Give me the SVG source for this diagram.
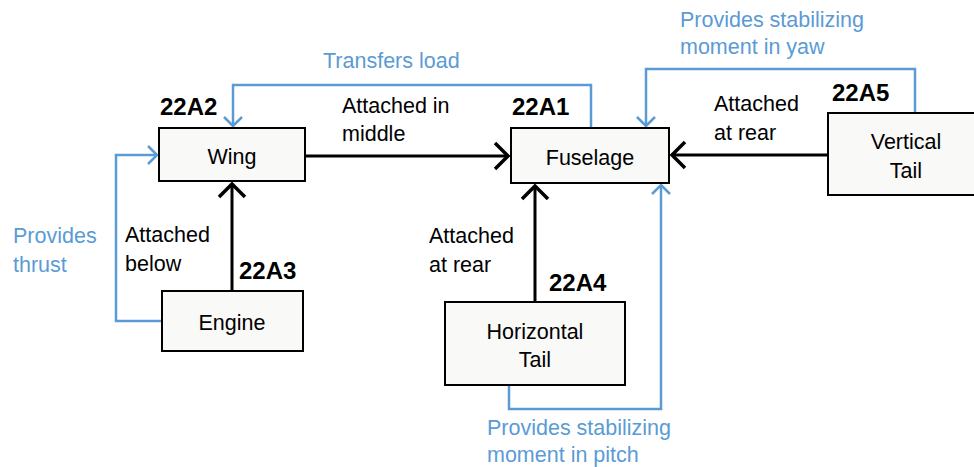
<svg xmlns="http://www.w3.org/2000/svg" width="974" height="467" viewBox="0 0 974 467">
<style>
.box{fill:#f9f9f8;stroke:#000;stroke-width:2}
.t{font-family:"Liberation Sans",Arial,sans-serif;font-size:21.5px;fill:#000}
.c{text-anchor:middle}
.id{font-family:"Liberation Sans",Arial,sans-serif;font-size:24px;font-weight:bold;fill:#000}
.b{fill:#5b9bd5}
.k{fill:none;stroke:#000;stroke-width:3}
.bl{fill:none;stroke:#5b9bd5;stroke-width:2.5}
</style>
<defs>
<marker id="ak" markerUnits="userSpaceOnUse" viewBox="-16 -16 20 32" markerWidth="20" markerHeight="32" refX="0" refY="0" orient="auto">
<path d="M-13,-13 L0,0 L-13,13" fill="none" stroke="#000" stroke-width="3.5"/>
</marker>
<marker id="ab" markerUnits="userSpaceOnUse" viewBox="-12 -12 16 24" markerWidth="16" markerHeight="24" refX="0" refY="0" orient="auto">
<path d="M-9,-9 L0,0 L-9,9" fill="none" stroke="#5b9bd5" stroke-width="2.5"/>
</marker>
</defs>
<rect width="974" height="467" fill="#fff"/>
<g id="connectors">
<path class="k" d="M305,156 H508" marker-end="url(#ak)"/>
<path class="k" d="M232,291 V184" marker-end="url(#ak)"/>
<path class="k" d="M535,302 V186" marker-end="url(#ak)"/>
<path class="k" d="M828,155 H672" marker-end="url(#ak)"/>
<path class="bl" d="M591,128 V85 H233 V126" marker-end="url(#ab)"/>
<path class="bl" d="M915,113 V69 H646 V126" marker-end="url(#ab)"/>
<path class="bl" d="M509,385 V409 H661 V185" marker-end="url(#ab)"/>
<path class="bl" d="M162,321 H116 V155 H157" marker-end="url(#ab)"/>
<text class="t" x="342" y="113">Attached in</text>
<text class="t" x="342" y="141">middle</text>
<text class="t" x="714" y="111">Attached</text>
<text class="t" x="714" y="140">at rear</text>
<text class="t" x="125" y="242">Attached</text>
<text class="t" x="125" y="271">below</text>
<text class="t" x="429" y="243">Attached</text>
<text class="t" x="429" y="272">at rear</text>
<text class="t b" x="323" y="68">Transfers load</text>
<text class="t b" x="680" y="27">Provides stabilizing</text>
<text class="t b" x="680" y="54">moment in yaw</text>
<text class="t b" x="13" y="243">Provides</text>
<text class="t b" x="13" y="272">thrust</text>
<text class="t b" x="487" y="435">Provides stabilizing</text>
<text class="t b" x="487" y="462">moment in pitch</text>
</g>
<g id="wing">
<rect class="box" x="159" y="128" width="146" height="53"/>
<text class="t c" x="232" y="164">Wing</text>
<text class="id" x="160" y="115">22A2</text>
</g>
<g id="fuselage">
<rect class="box" x="511" y="128" width="158" height="55"/>
<text class="t c" x="590" y="165">Fuselage</text>
<text class="id" x="512" y="115">22A1</text>
</g>
<g id="vertical-tail">
<rect class="box" x="828" y="113" width="152" height="82"/>
<text class="t c" x="906" y="149">Vertical</text>
<text class="t c" x="906" y="178">Tail</text>
<text class="id" x="832" y="101">22A5</text>
</g>
<g id="engine">
<rect class="box" x="162" y="291" width="141" height="60"/>
<text class="t c" x="232" y="330">Engine</text>
<text class="id" x="239" y="279">22A3</text>
</g>
<g id="horizontal-tail">
<rect class="box" x="445" y="302" width="180" height="83"/>
<text class="t c" x="535" y="339">Horizontal</text>
<text class="t c" x="535" y="367">Tail</text>
<text class="id" x="549" y="291">22A4</text>
</g>
</svg>
